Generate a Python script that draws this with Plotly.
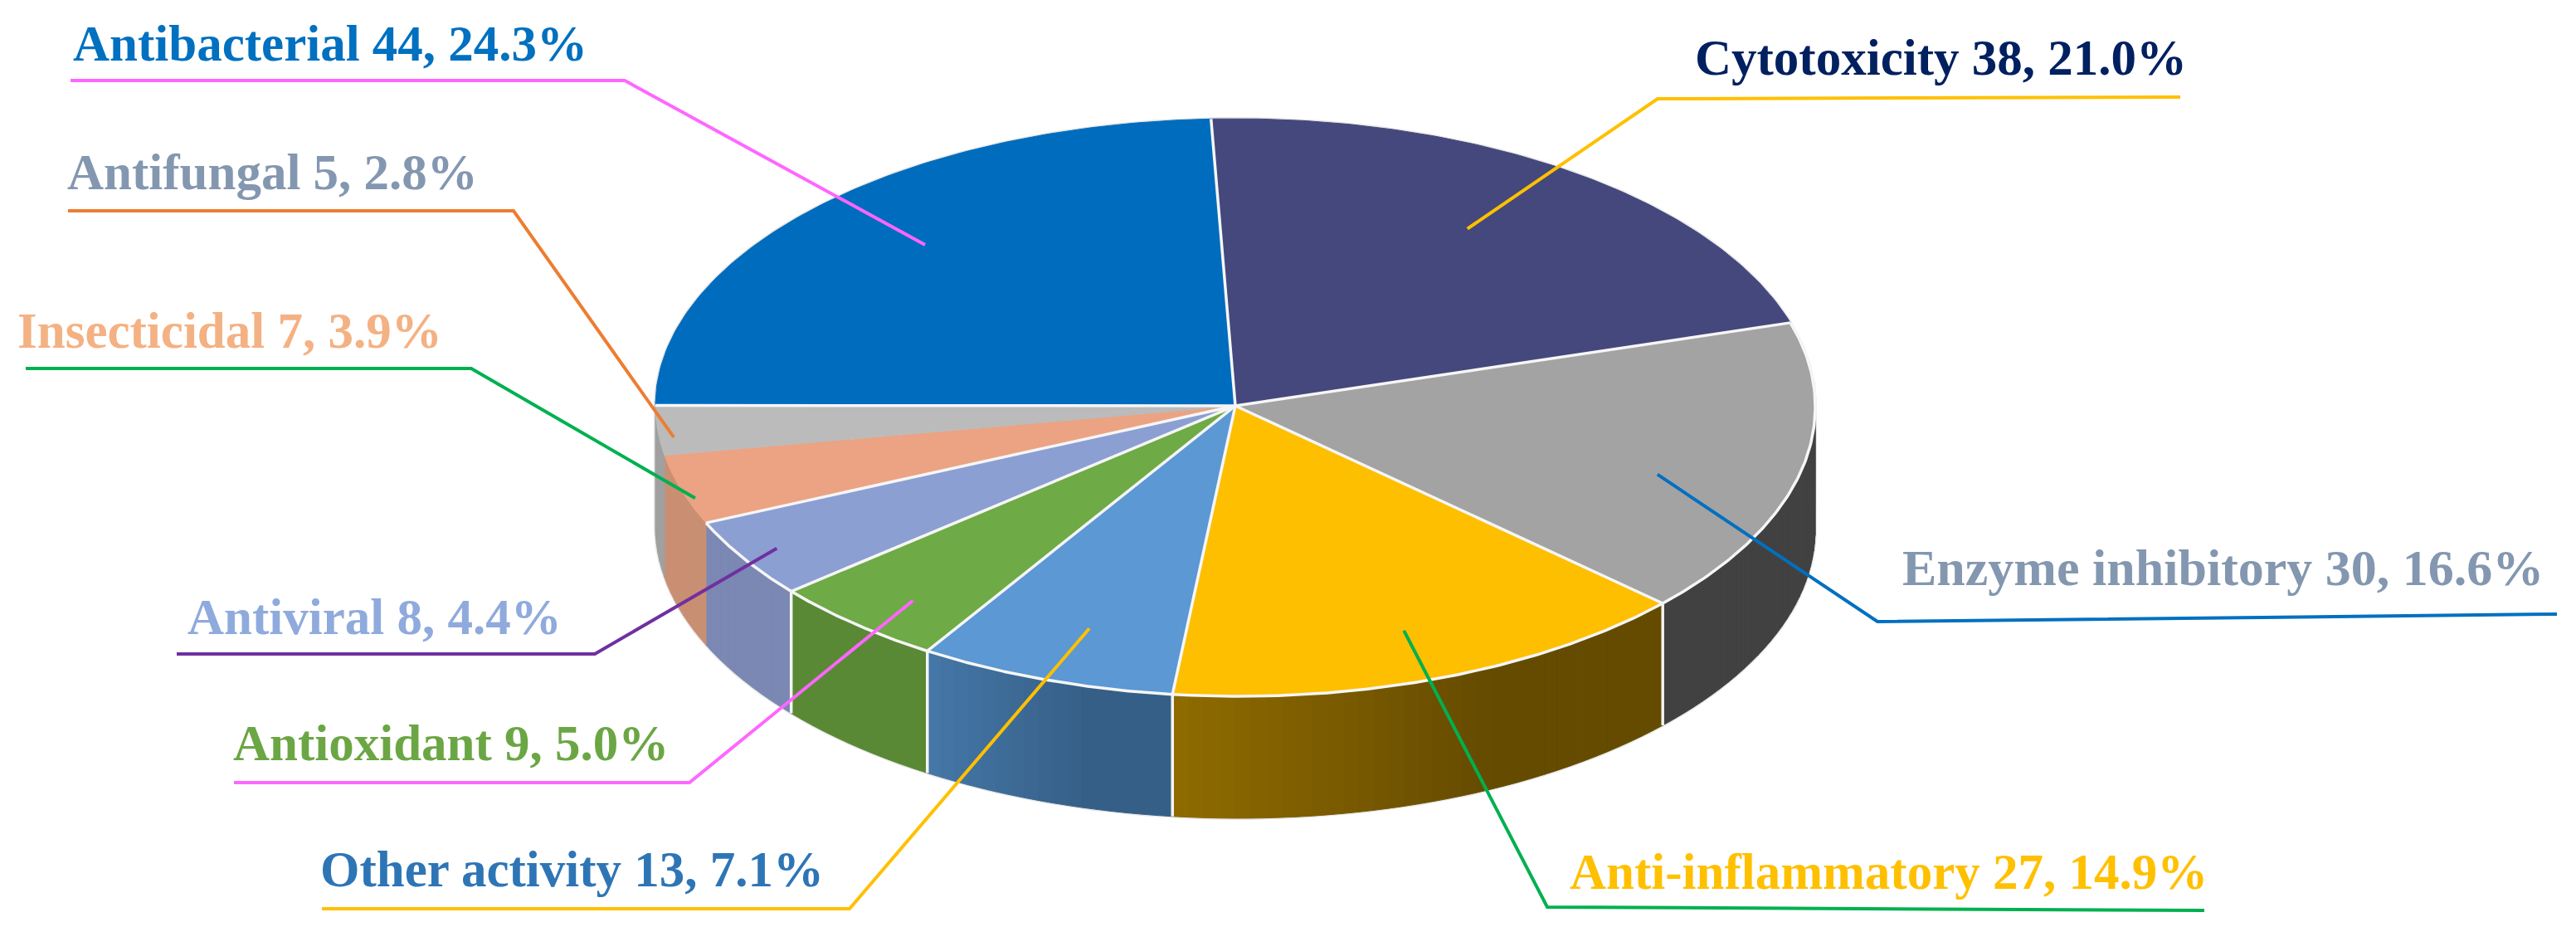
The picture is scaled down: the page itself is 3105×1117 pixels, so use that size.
import numpy as np
import plotly.graph_objects as go

# ---- data (clockwise from the first slice) ----
names = ["Cytotoxicity", "Enzyme inhibitory", "Anti-inflammatory", "Other activity",
         "Antioxidant", "Antiviral", "Insecticidal", "Antifungal", "Antibacterial"]
counts = [38, 30, 27, 13, 9, 8, 7, 5, 44]
percents = ["21.0", "16.6", "14.9", "7.1", "5.0", "4.4", "3.9", "2.8", "24.3"]

# ---- styles ----
top_colors = ["#44487C", "#A3A3A3", "#FDBF00", "#5B98D4", "#6EAA45", "#8C9FD2", "#EBA384", "#BBBBBB", "#006CBE"]
wall_left = ["#3A3E6A", "#414141", "#8F6B00", "#4577A7", "#5A8936", "#7A88B3", "#C98F73", "#A0A0A0", "#00569A"]
wall_right = ["#3A3E6A", "#414141", "#654B00", "#355F87", "#5A8936", "#7A88B3", "#C98F73", "#A0A0A0", "#00569A"]
text_colors = ["#002060", "#8497B0", "#FFC000", "#2E75B6", "#6BA644", "#8FAADC", "#F4B183", "#8497B0", "#0070C0"]
leader_colors = ["#FFC000", "#0070C0", "#00B050", "#FFC000", "#FF66FF", "#7030A0", "#00B050", "#ED7D31", "#FF66FF"]
white_edge = [True, True, True, True, True, True, False, False, True]

# ---- geometry of the drawing (pixels) ----
CX, CY, RX, RY_BACK, RY_FRONT, DEPTH = 1489.0, 489.0, 699.0, 346.0, 350.0, 147.0
START = -2.4
FRONT_SHIFT = 4.0
leader_radius = [0.735, 0.764, 0.825, 0.808, 0.873, 0.933, 0.986, 0.975, 0.775]
leader_turn = [-2.4, 5.0, 0.0, -1.0, -1.5, 0.0, -2.0, -1.5, 2.5]
leader_knee = [(1998, 119), (2263, 749), (1865, 1093), (1024, 1095), (831, 943), (717, 788), (568, 444), (619, 254), (753, 97)]
leader_tail = [(2628, 117), (3082, 740), (2657, 1097), (388, 1095), (282, 943), (213, 788), (31, 444), (82, 254), (85, 97)]
label_pos = [(2042, 69), (2292, 684), (1891, 1050), (385, 1047), (280, 895), (225, 743), (20, 398), (80, 207), (87, 52)]
font_sizes = [61, 62, 61, 61, 61, 61, 61, 61, 61]


def px(theta, r=1.0, dy=0.0):
    t = np.radians(theta)
    c = np.cos(t)
    ry = np.where(c >= 0, RY_BACK, RY_FRONT)
    shift = np.where(c < 0, -c * FRONT_SHIFT, 0.0)
    return CX + (RX * np.sin(t) + shift) * r, CY - ry * r * c + dy


def mix(a, b, t):
    ca = [int(a[i:i + 2], 16) for i in (1, 3, 5)]
    cb = [int(b[i:i + 2], 16) for i in (1, 3, 5)]
    return "rgb(%d,%d,%d)" % tuple(round(x + (y - x) * t) for x, y in zip(ca, cb))


sweep = np.array(counts) / sum(counts) * 360.0
ends = START + np.cumsum(sweep)
starts = ends - sweep
mids = (starts + ends) / 2

fig = go.Figure()


def add(x, y, **kw):
    fig.add_trace(go.Scatter(x=list(x), y=list(y), mode="lines", hoverinfo="skip", showlegend=False, **kw))


# soft outline round the solid
sil = np.linspace(-90, 90, 200)
low = np.linspace(90, 270, 200)
sx = np.r_[px(sil)[0], px(low, dy=DEPTH)[0], px(sil[:1])[0]]
sy = np.r_[px(sil)[1], px(low, dy=DEPTH)[1], px(sil[:1])[1]]
add(sx, sy, line=dict(color="#E8E8E8", width=4))

# side walls
for i in range(len(counts)):
    a, b = max(starts[i], 90.0), min(ends[i], 270.0)
    if b <= a:
        continue
    n = max(2, int((b - a) / 1.5))
    edges = np.linspace(a, b, n + 1)
    xa, xb = px(a)[0], px(b)[0]
    for e0, e1 in zip(edges[:-1], edges[1:]):
        arc = np.linspace(e0, e1, 4)
        xt, yt = px(arc)
        xd, yd = px(arc[::-1], dy=DEPTH)
        tx = (0.5 * (xt[0] + xt[-1]) - min(xa, xb)) / abs(xb - xa)
        col = mix(wall_left[i], wall_right[i], min(1.0, tx / 0.65))
        add(np.r_[xt, xd, xt[:1]], np.r_[yt, yd, yt[:1]], fill="toself", fillcolor=col,
            line=dict(color=col, width=1))

# seams on the walls
for i in range(len(counts)):
    if 90 < ends[i] < 270 and white_edge[i] and white_edge[(i + 1) % len(counts)]:
        x0, y0 = px(ends[i])
        add([x0, x0], [y0, y0 + DEPTH], line=dict(color="#F4F4F4", width=3.5))

# top faces
for i in range(len(counts)):
    arc = np.linspace(starts[i], ends[i], 120)
    xa, ya = px(arc)
    add(np.r_[CX, xa, CX], np.r_[CY, ya, CY], fill="toself", fillcolor=top_colors[i],
        line=dict(color=top_colors[i], width=1))

# white edges on the top faces
for i in range(len(counts)):
    arc = np.linspace(starts[i], ends[i], 120)
    xa, ya = px(arc)
    if white_edge[i] and i != len(counts) - 1 and i != 0:
        add(xa, ya, line=dict(color="#F6F6F6", width=3.5))
    if white_edge[i] or white_edge[(i + 1) % len(counts)]:
        xe, ye = px(ends[i])
        add([CX, xe], [CY, ye], line=dict(color="#F6F6F6", width=3.5))

# leaders and labels
for i in range(len(counts)):
    xi, yi = px(mids[i] + leader_turn[i], leader_radius[i])
    kx, ky = leader_knee[i]
    tx, ty = leader_tail[i]
    add([xi, kx, tx], [yi, ky, ty], line=dict(color=leader_colors[i], width=4))
    fig.add_annotation(x=label_pos[i][0], y=label_pos[i][1], xref="x", yref="y", showarrow=False,
                       xanchor="left", yanchor="middle",
                       text=f"{names[i]} {counts[i]}, {percents[i]}%",
                       font=dict(family="Liberation Serif", size=font_sizes[i], color=text_colors[i], weight="bold"),
                       borderpad=0)

fig.update_layout(width=3105, height=1117, margin=dict(l=0, r=0, t=0, b=0),
                  paper_bgcolor="white", plot_bgcolor="white", showlegend=False,
                  xaxis=dict(range=[0, 3105], visible=False, fixedrange=True),
                  yaxis=dict(range=[1117, 0], visible=False, fixedrange=True))
fig.write_html("out.html", config={"displayModeBar": False},
               post_script="document.body.style.margin='0';document.body.style.overflow='hidden';")
